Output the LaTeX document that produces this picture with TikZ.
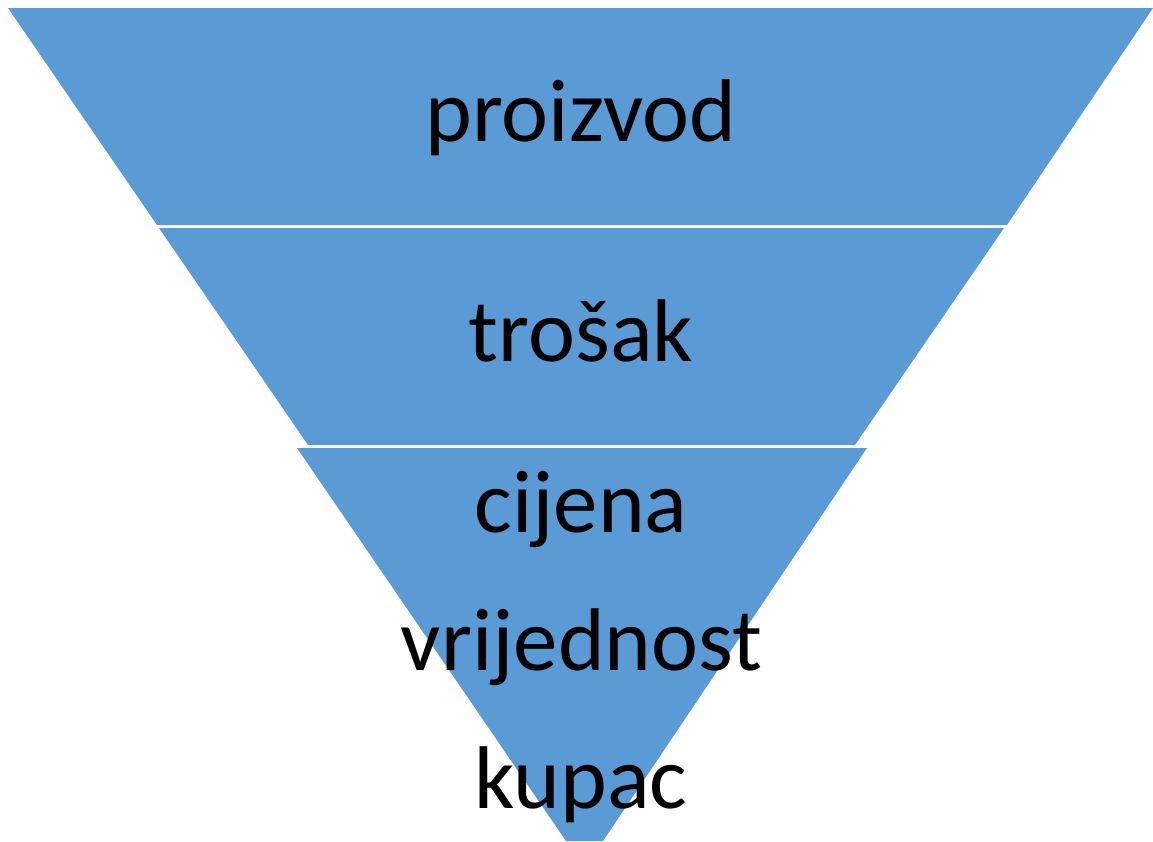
\documentclass[tikz,border=0pt]{standalone}
\usepackage{fontspec}
\setmainfont{Carlito}
\definecolor{funnelblue}{HTML}{5B9BD5}
\begin{document}
\begin{tikzpicture}[x=1pt,y=-1pt,
  band/.style={fill=funnelblue,draw=none},
  lbl/.style={anchor=base,inner sep=0pt,text=black,font=\fontsize{89}{100}\selectfont}]
\useasboundingbox (0,0) rectangle (1153,841);
\fill[white] (0,0) rectangle (1153,841);
\path[band] (8,8) -- (1153,8) -- (1007,225) -- (157,225) -- cycle;
\path[band] (159,228) -- (1004,228) -- (855,445) -- (308,445) -- cycle;
\path[band] (297,448) -- (867,448) -- (603,841) -- (566,841) -- cycle;
\node[lbl] (proizvod) at (581,141.7) {proizvod};
\node[lbl] (trosak) at (581,361.7) {trošak};
\node[lbl] (cijena) at (581,532.7) {cijena};
\node[lbl] (vrijednost) at (581.5,670) {vrijednost};
\node[lbl] (kupac) at (581,808) {kupac};
\end{tikzpicture}
\end{document}
